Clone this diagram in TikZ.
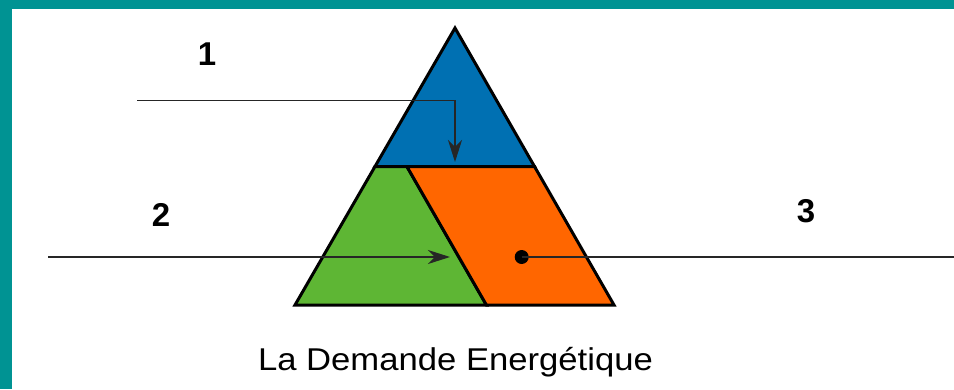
\documentclass[tikz,border=0pt]{standalone}
\usepackage{fontspec}
\setmainfont{Liberation Sans}
\usetikzlibrary{calc,arrows.meta}

\tikzset{
  pyr part/.style={draw=black, line width=3pt, line join=miter},
  feed line/.style={draw=black!85, line width=1.5pt},
  feed arrow/.style={feed line, -{Stealth[length=22pt,width=14pt,inset=7pt]}},
  num/.style={font=\fontsize{33}{36}\selectfont\bfseries, inner sep=0pt},
}
\definecolor{frame}{RGB}{0,147,147}
\definecolor{topcol}{RGB}{0,112,178}
\definecolor{leftcol}{RGB}{94,182,52}
\definecolor{rightcol}{RGB}{255,102,0}

\begin{document}
\begin{tikzpicture}[x=1pt, y=-1pt]
    \useasboundingbox (0,0) rectangle (954,389);

    % ======== FRAME ========
    \fill[frame] (0,0) rectangle (954,8.5);
    \fill[frame] (0,0) rectangle (11.7,389);

    % ======== PYRAMID ========
    \coordinate (apex) at (455,28);
    \coordinate (bl) at (295,305);
    \coordinate (br) at (614,305);
    \coordinate (ml) at ($(apex)!0.5!(bl)$);
    \coordinate (mr) at ($(apex)!0.5!(br)$);
    \coordinate (gt) at ($(ml)!0.2!(mr)$);
    \coordinate (gb) at ($(gt)+(br)-(mr)$);

    \filldraw[pyr part, fill=topcol]   (apex) -- (ml) -- (mr) -- cycle;
    \filldraw[pyr part, fill=leftcol]  (ml) -- (gt) -- (gb) -- (bl) -- cycle;
    \filldraw[pyr part, fill=rightcol] (gt) -- (mr) -- (br) -- (gb) -- cycle;

    % ======== LINES ========
    % 1: from the left, bends down into the top part
    \coordinate (in1) at (137,100.5);
    \coordinate (tip1) at (455,162);
    \draw[feed arrow] (in1) -| (tip1);

    % 2: straight into the left part
    \coordinate (in2) at (48,257);
    \coordinate (tip2) at (450,257);
    \draw[feed arrow] (in2) -- (tip2);

    % 3: leaves the right part from a dot
    \node[circle, fill=black, minimum size=14pt, inner sep=0pt] (dot3) at (521.7,257) {};
    \coordinate (out3) at (954,257);
    \draw[feed line] (dot3.center) -- (out3);

    % ======== LABELS ========
    \node[num] (lab1) at (207,54) {1};
    \node[num] (lab2) at (161,215) {2};
    \node[num] (lab3) at (806,211) {3};

    \node[anchor=base, inner sep=0pt, font=\fontsize{31.5}{36}\selectfont]
      (caption) at (455.5,370.5) {\scalebox{1.1}[1]{La Demande Energétique}};
\end{tikzpicture}
\end{document}
